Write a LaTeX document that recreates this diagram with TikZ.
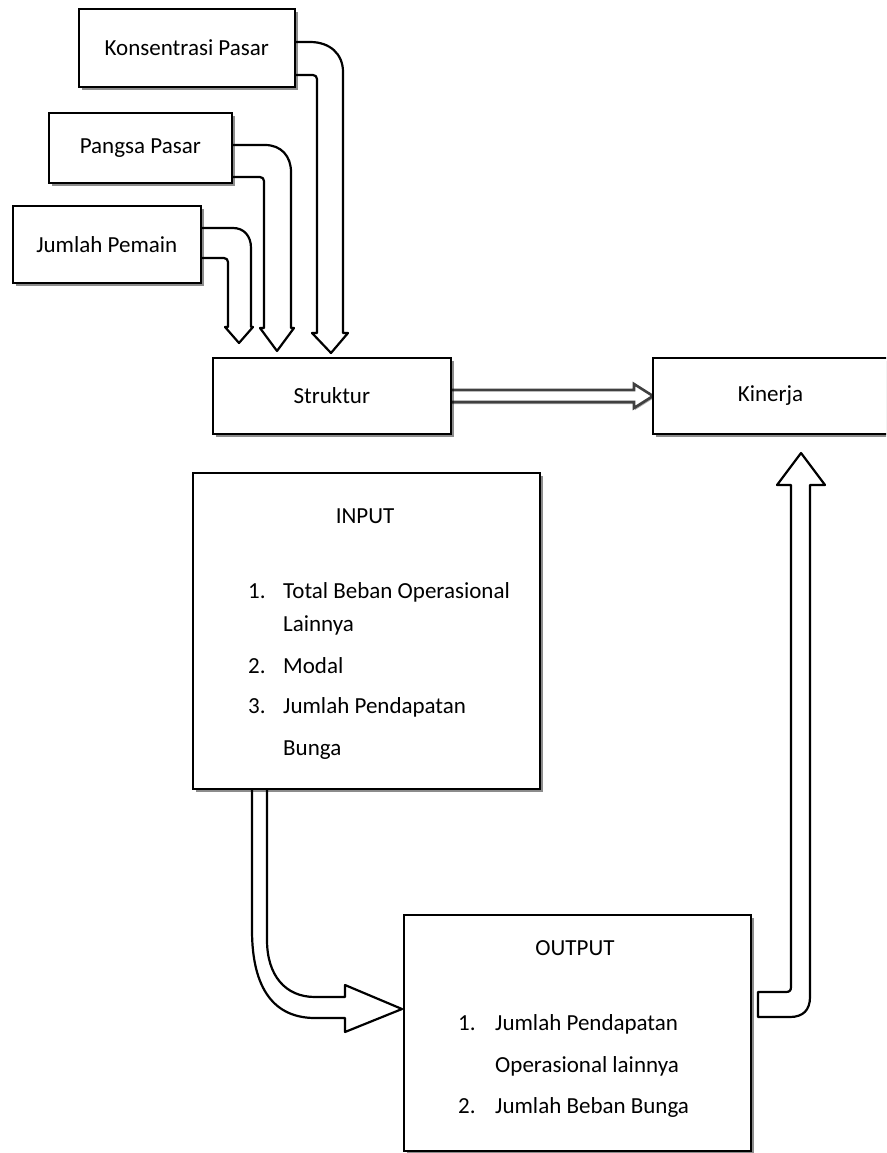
\documentclass[tikz,border=0pt]{standalone}
\usepackage{fontspec}
\setmainfont{Carlito}
\usetikzlibrary{shadows}
\tikzset{
  box/.style={draw=black, line width=1.6, fill=white,
    drop shadow={shadow xshift=3pt, shadow yshift=-3pt, fill=black, opacity=0.45},
    font=\fontsize{23}{28}\selectfont, inner sep=0, anchor=north west},
  fat/.style={draw=black, line width=2.2, fill=white, line join=round},
  thin arrow/.style={draw=black!75, line width=2.6, fill=white, line join=miter,
    drop shadow={shadow xshift=1pt, shadow yshift=-2pt, fill=black, opacity=0.35}},
  txt/.style={font=\fontsize{23}{28}\selectfont, inner sep=0, anchor=base west},
  ttl/.style={font=\fontsize{23}{28}\selectfont, inner sep=0, anchor=base}
}
\begin{document}
\begin{tikzpicture}[x=1pt,y=-1pt]
\useasboundingbox (0,0) rectangle (886,1153);
\clip (0,0) rectangle (886,1153);
\fill[white] (0,0) rectangle (886,1153);

% anchor coordinates for the connectors
\coordinate (kE) at (294,42);
\coordinate (pE) at (231,145);
\coordinate (jE) at (200,228);
\coordinate (sE) at (450,390);
\coordinate (iS) at (252,788);
\coordinate (oE) at (758,992);

% bent arrows into Struktur
\draw[fat] (kE) -- (310,42) .. controls (330,42) and (343,54) .. (343,72)
  -- (343,333) -- (348,333) -- (331,353) -- (312,333) -- (317,333)
  [rounded corners=4] -- (317,75) [sharp corners] -- (294,75);
\draw[fat] (pE) -- (265,145) .. controls (281,145) and (291,156) .. (291,172)
  -- (291,328) -- (294,328) -- (277,351) -- (260,328) -- (264,328)
  [rounded corners=4] -- (264,177) [sharp corners] -- (231,177);
\draw[fat] (jE) -- (233,228) .. controls (244,228) and (251,236) .. (251,248)
  -- (251,327) -- (253,327) -- (239,343) -- (225,327) -- (228,327)
  [rounded corners=4] -- (228,258) [sharp corners] -- (200,258);

% Struktur -> Kinerja
\draw[thin arrow] (sE) -- (634,390) -- (634,384) -- (653,396) -- (634,408) -- (634,402) -- (450,402);

% INPUT -> OUTPUT
\draw[fat] (iS) -- (252,930) .. controls (252,990) and (275,1018) .. (315,1018)
  -- (345,1018) -- (345,1032) -- (402,1009) -- (345,985) -- (345,997) -- (315,997)
  .. controls (285,997) and (267,975) .. (267,940) -- (267,788);

% OUTPUT -> Kinerja
\draw[fat] (oE) -- (786,992) .. controls (789.5,992) and (791,990.5) .. (791,987)
  -- (791,485) -- (777,485) -- (801,453) -- (825,485) -- (810,485)
  -- (810,997) .. controls (810,1010) and (803,1017) .. (790,1017) -- (758,1017) -- cycle;

% boxes
\node[box, minimum width=216, minimum height=78] (kons) at (78,8) {Konsentrasi Pasar};
\node[box, minimum width=183, minimum height=70] (pangsa) at (48,112) {Pangsa Pasar};
\node[box, minimum width=188, minimum height=77] (jumlah) at (12,205) {Jumlah Pemain};
\node[box, minimum width=238, minimum height=76] (struktur) at (212,357) {Struktur};
\node[box, minimum width=250, minimum height=76, text width=232, align=left] (kinerja) at (652,357) {\hspace*{76pt}Kinerja};
\node[box, minimum width=347, minimum height=316] (input) at (192,472) {};
\node[box, minimum width=347, minimum height=236] (output) at (403,914) {};

% INPUT contents
\node[ttl] (inT) at (365,523) {INPUT};
\node[txt] (in1n) at (248,598) {1.};
\node[txt] (in1) at (283,598) {Total Beban Operasional};
\node[txt] (in1b) at (283,631) {Lainnya};
\node[txt] (in2n) at (248,673) {2.};
\node[txt] (in2) at (283,673) {Modal};
\node[txt] (in3n) at (248,713) {3.};
\node[txt] (in3) at (283,713) {Jumlah Pendapatan};
\node[txt] (in3b) at (283,755) {Bunga};

% OUTPUT contents
\node[ttl] (outT) at (575,955) {OUTPUT};
\node[txt] (o1n) at (458,1030) {1.};
\node[txt] (o1) at (495,1030) {Jumlah Pendapatan};
\node[txt] (o1b) at (495,1072) {Operasional lainnya};
\node[txt] (o2n) at (458,1113) {2.};
\node[txt] (o2) at (495,1113) {Jumlah Beban Bunga};
\end{tikzpicture}
\end{document}
